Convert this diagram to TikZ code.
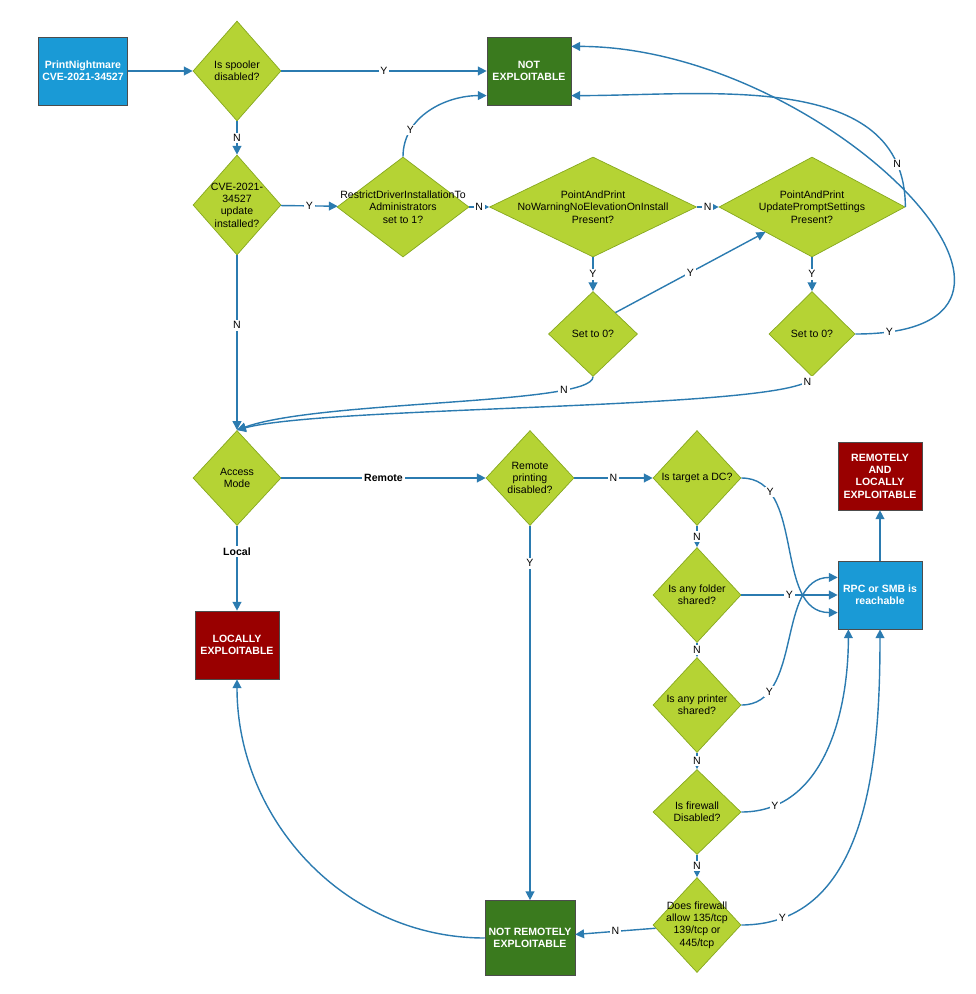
\documentclass[tikz,border=0pt]{standalone}
\usepackage{fontspec}
\setmainfont{Liberation Sans}
\usetikzlibrary{shapes.geometric,arrows.meta}
\definecolor{dgreen}{HTML}{B5D334}
\definecolor{dgreenb}{HTML}{86A81E}
\definecolor{bbox}{HTML}{1A9AD6}
\definecolor{rbox}{HTML}{990000}
\definecolor{gbox}{HTML}{3A7A1E}
\definecolor{arr}{HTML}{2B7BB0}
\tikzset{
  dec/.style={shape=diamond,draw=dgreenb,fill=dgreen,inner sep=0pt,minimum width=1.76cm,minimum height=1.9cm},
  dtext/.style={align=center,inner sep=0pt,node font=\fontsize{6}{7}\selectfont},
  box/.style={shape=rectangle,draw=black!70,text=white,minimum width=1.68cm,minimum height=1.36cm,align=center,node font=\fontsize{6}{7}\selectfont\bfseries},
  lbl/.style={fill=white,inner sep=1pt,node font=\fontsize{6}{7}\selectfont},
  flow/.style={draw=arr,thick,-{Triangle[length=5pt,width=5pt]}}
}
\begin{document}
\begin{tikzpicture}[x=0.02cm,y=-0.02cm]
\useasboundingbox (0,0) rectangle (976,994);
% boxes
\node[box,fill=bbox] (pn) at (83,71) {PrintNightmare\\CVE-2021-34527};
\node[box,fill=gbox] (notx) at (529,71) {NOT\\EXPLOITABLE};
\node[box,fill=rbox] (rle) at (880,476) {REMOTELY\\AND\\LOCALLY\\EXPLOITABLE};
\node[box,fill=bbox] (rpc) at (880,595) {RPC or SMB is\\reachable};
\node[box,fill=rbox] (loc) at (237,645) {LOCALLY\\EXPLOITABLE};
\node[box,fill=gbox,minimum height=1.5cm] (nre) at (530,938) {NOT REMOTELY\\EXPLOITABLE};
% decisions
\node[dec,minimum height=2cm,label={[dtext]center:Is spooler\\disabled?}] (spool) at (237,71) {};
\node[dec,minimum height=2cm,label={[dtext]center:CVE-2021-\\34527\\update\\installed?}] (cve) at (237,205) {};
\node[dec,minimum width=2.64cm,minimum height=2cm,label={[dtext]center:RestrictDriverInstallationTo\\Administrators\\set to 1?}] (restr) at (403,207) {};
\node[dec,minimum width=4.14cm,minimum height=2cm,label={[dtext]center:PointAndPrint\\NoWarningNoElevationOnInstall\\Present?}] (nowarn) at (593,207) {};
\node[dec,minimum width=3.72cm,minimum height=2cm,label={[dtext]center:PointAndPrint\\UpdatePromptSettings\\Present?}] (upd) at (812,207) {};
\node[dec,minimum width=1.78cm,minimum height=1.7cm,label={[dtext]center:Set to 0?}] (setA) at (593,334) {};
\node[dec,minimum width=1.72cm,minimum height=1.7cm,label={[dtext]center:Set to 0?}] (setB) at (812,334) {};
\node[dec,label={[dtext]center:Access\\Mode}] (acc) at (237,478) {};
\node[dec,label={[dtext]center:Remote\\printing\\disabled?}] (rpd) at (530,478) {};
\node[dec,label={[dtext]center:Is target a DC?}] (dc) at (697,478) {};
\node[dec,label={[dtext]center:Is any folder\\shared?}] (fold) at (697,595) {};
\node[dec,label={[dtext]center:Is any printer\\shared?}] (prn) at (697,705) {};
\node[dec,minimum height=1.7cm,label={[dtext]center:Is firewall\\Disabled?}] (fw) at (697,812) {};
\node[dec,label={[dtext]center:Does firewall\\allow 135/tcp\\139/tcp or\\445/tcp}] (fwp) at (697,925) {};
\coordinate (accT) at (237,430);
% connectors
\draw[flow] (pn) -- (spool);
\draw[flow] (spool) -- node[lbl]{Y} (notx);
\draw[flow] (spool) -- node[lbl]{N} (cve);
\draw[flow] (cve) -- node[lbl]{Y} (restr);
\draw[flow] (cve) -- node[lbl,pos=0.4]{N} (accT);
\draw[flow] (restr.north) to[out=90,in=180] node[lbl,pos=0.25]{Y} ([yshift=-14]notx.west);
\draw[flow] (restr) -- node[lbl]{N} (nowarn);
\draw[flow] (nowarn) -- node[lbl]{N} (upd);
\draw[flow] (nowarn) -- node[lbl]{Y} (setA);
\draw[flow] (setA.north east) -- node[lbl]{Y} (upd.south west);
\draw[flow] (setA.south) .. controls (593,405) and (320,400) .. node[lbl,pos=0.2]{N} (accT);
\draw[flow] (upd.east) to[out=90,in=0] node[lbl,pos=0.12]{N} ([yshift=-14]notx.east);
\draw[flow] (upd) -- node[lbl]{Y} (setB);
\draw[flow] (setB.east) to[out=0,in=0,looseness=1.6] node[lbl,pos=0.05]{Y} ([yshift=14]notx.east);
\draw[flow] (setB.south) .. controls (805,410) and (330,405) .. node[lbl,pos=0.05]{N} (accT);
\draw[flow] (acc) -- node[lbl,font=\fontsize{6}{7}\selectfont\bfseries]{Remote} (rpd);
\draw[flow] (acc) -- node[lbl,pos=0.3,font=\fontsize{6}{7}\selectfont\bfseries]{Local} (loc);
\draw[flow] (rpd) -- node[lbl]{N} (dc);
\draw[flow] (rpd) -- node[lbl,pos=0.1]{Y} (nre);
\draw[flow] (dc.east) to[out=0,in=180] node[lbl,pos=0.2]{Y} ([yshift=-10]rpc.west);
\draw[flow] (dc) -- node[lbl]{N} (fold);
\draw[flow] (fold) -- node[lbl]{Y} (rpc);
\draw[flow] (fold) -- node[lbl]{N} (prn);
\draw[flow] (prn.east) to[out=0,in=180] node[lbl,pos=0.2]{Y} ([yshift=10]rpc.west);
\draw[flow] (prn) -- node[lbl]{N} (fw);
\draw[flow] (fw.east) to[out=0,in=-90] node[lbl,pos=0.15]{Y} ([xshift=-18]rpc.south);
\draw[flow] (fw) -- node[lbl]{N} (fwp);
\draw[flow] (fwp.east) to[out=0,in=-90] node[lbl,pos=0.12]{Y} (rpc.south);
\draw[flow] (fwp) -- node[lbl]{N} (nre);
\draw[flow] (rpc) -- (rle);
\draw[flow] (nre.west) to[out=180,in=-90] (loc.south);
\end{tikzpicture}
\end{document}
